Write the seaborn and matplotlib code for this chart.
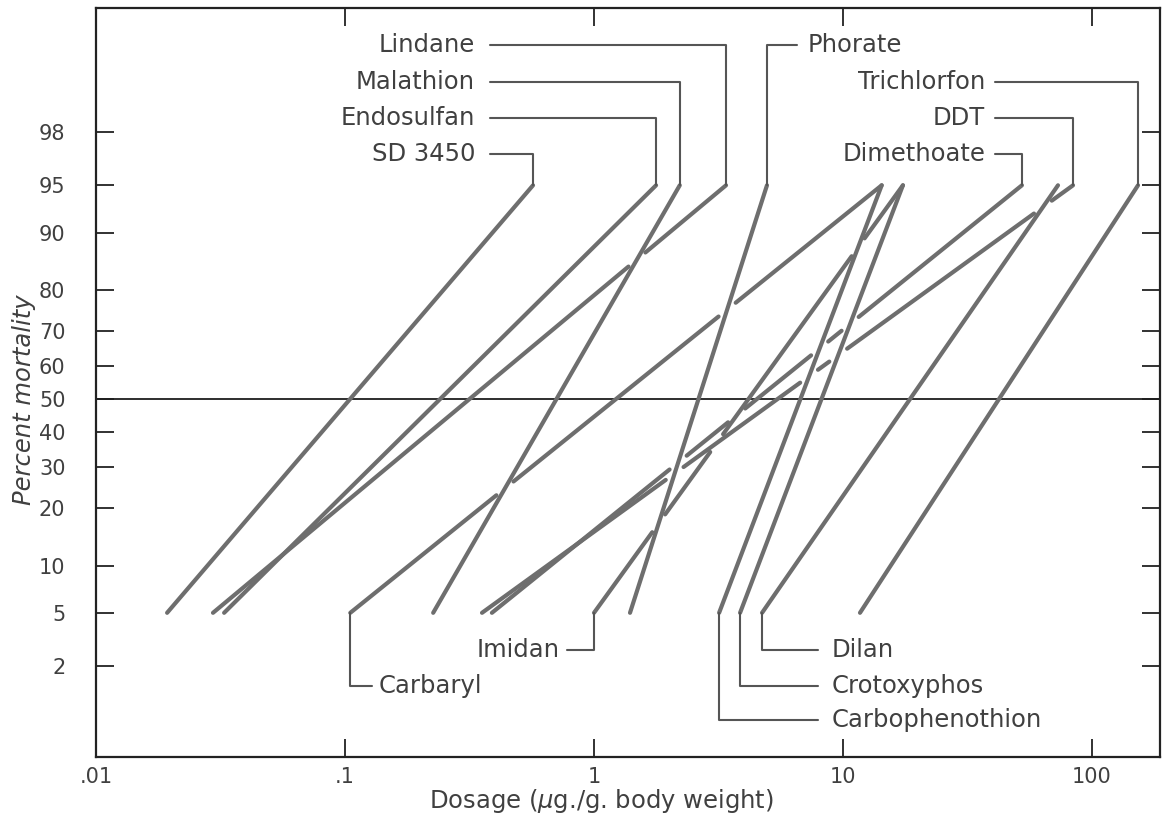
import numpy as np
import pandas as pd
import matplotlib
matplotlib.use("Agg")
import matplotlib.pyplot as plt
from matplotlib.ticker import NullLocator
import seaborn as sns
from statistics import NormalDist

# ---------------- data ----------------
insecticides = ["SD 3450", "Lindane", "Endosulfan", "Carbaryl", "Malathion",
                "DDT", "Dimethoate", "Imidan", "Phorate", "Carbophenothion",
                "Crotoxyphos", "Dilan", "Trichlorfon"]
dose_at_5pct = [0.0193, 0.0295, 0.0327, 0.105, 0.226, 0.355, 0.389, 1.0,
                1.395, 3.18, 3.86, 4.73, 11.7]
dose_at_95pct = [0.569, 3.39, 1.775, 14.3, 2.21, 83.9, 52.3, 17.4,
                 4.95, 14.3, 17.4, 73.0, 153.0]
mortality_low = 5
mortality_high = 95

y_tick_values = [2, 5, 10, 20, 30, 40, 50, 60, 70, 80, 90, 95, 98]
x_tick_values = [0.01, 0.1, 1, 10, 100]
x_tick_labels = [".01", ".1", "1", "10", "100"]

# crossings drawn with the first line interrupted by the second
line_breaks = [("Lindane", "Malathion"), ("Carbaryl", "Malathion"),
               ("Carbaryl", "Phorate"), ("DDT", "Phorate"),
               ("Dimethoate", "Phorate"), ("Imidan", "Phorate"),
               ("Imidan", "DDT"), ("Dimethoate", "Imidan"),
               ("DDT", "Carbophenothion"), ("DDT", "Crotoxyphos"),
               ("Dimethoate", "Carbophenothion"), ("Dimethoate", "Crotoxyphos"),
               ("DDT", "Dilan"), ("Imidan", "Carbophenothion")]

# ---------------- label layout ----------------
top_left_labels = ["Lindane", "Malathion", "Endosulfan", "SD 3450"]
top_right_labels = ["Trichlorfon", "DDT", "Dimethoate"]
top_levels = [99.676, 99.262, 98.47, 97.03]
bottom_right_labels = ["Dilan", "Crotoxyphos", "Carbophenothion"]
bottom_levels = [2.67, 1.36, 0.677]

LINE_COLOR = "#6e6e6e"
TEXT_COLOR = "#404040"
LEADER_COLOR = "#555555"

sns.set_theme(style="ticks")
plt.rcParams["font.family"] = ["DejaVu Sans"]

nd = NormalDist()


def _z(v):
    try:
        return nd.inv_cdf(min(max(v / 100.0, 1e-9), 1 - 1e-9))
    except Exception:
        return np.nan


def _p(v):
    try:
        return 100.0 * nd.cdf(v)
    except Exception:
        return np.nan


_zv = np.vectorize(_z, otypes=[float])
_pv = np.vectorize(_p, otypes=[float])


def probit_fwd(p):
    return _zv(np.asarray(p, dtype=float))


def probit_inv(z):
    return _pv(np.asarray(z, dtype=float))


fig = plt.figure(figsize=(11.64, 8.23), dpi=100)
ax = fig.add_axes([96 / 1164, 66 / 823, 1064 / 1164, 749 / 823])
ax.set_xscale("log")
ax.set_yscale("function", functions=(probit_fwd, probit_inv))
ax.set_xlim(0.01, 187.5)
ax.set_ylim(0.294, 99.869)

# ------------- build line segments (with breaks at crossings) -------------
td = ax.transData
disp = {}
for name, d5, d95 in zip(insecticides, dose_at_5pct, dose_at_95pct):
    p0 = td.transform((d5, mortality_low))
    p1 = td.transform((d95, mortality_high))
    disp[name] = (p0, p1)

GAP = 11.0  # pixels each side of a crossing
rows = []
seg_id = 0
inv = td.inverted()
for name in insecticides:
    p0, p1 = disp[name]
    L = np.hypot(*(p1 - p0))
    gaps = []
    for cut, by in line_breaks:
        if cut != name:
            continue
        q0, q1 = disp[by]
        r = p1 - p0
        s = q1 - q0
        den = r[0] * s[1] - r[1] * s[0]
        if abs(den) < 1e-9:
            continue
        t = ((q0[0] - p0[0]) * s[1] - (q0[1] - p0[1]) * s[0]) / den
        gaps.append((t - GAP / L, t + GAP / L))
    gaps.sort()
    pieces = []
    start = 0.0
    for g0, g1 in gaps:
        if g0 > start:
            pieces.append((start, min(g0, 1.0)))
        start = max(start, g1)
    if start < 1.0:
        pieces.append((start, 1.0))
    for a, b in pieces:
        for t in (a, b):
            dx, my = inv.transform(p0 + t * (p1 - p0))
            rows.append({"insecticide": name, "seg": seg_id, "dose": dx,
                         "mortality": my})
        seg_id += 1

df = pd.DataFrame(rows)
sns.lineplot(data=df, x="dose", y="mortality", units="seg", estimator=None,
             sort=False, color=LINE_COLOR, lw=3.0, solid_capstyle="round",
             legend=False, ax=ax)

# 50 % reference line
ax.axhline(50, color="#1e1e1e", lw=1.3, zorder=1)

# ------------- labels with leader lines -------------
d95_of = dict(zip(insecticides, dose_at_95pct))
d5_of = dict(zip(insecticides, dose_at_5pct))
lab_fs = 17.5
lw_lead = 1.5

for name, lev in zip(top_left_labels, top_levels):
    x95 = d95_of[name]
    ax.plot([0.382, x95, x95], [lev, lev, mortality_high], color=LEADER_COLOR, lw=lw_lead)
    ax.text(0.333, lev, name, ha="right", va="center", fontsize=lab_fs, color=TEXT_COLOR)

for name, lev in zip(top_right_labels, top_levels[1:]):
    x95 = d95_of[name]
    ax.plot([40.8, x95, x95], [lev, lev, mortality_high], color=LEADER_COLOR, lw=lw_lead)
    ax.text(37.2, lev, name, ha="right", va="center", fontsize=lab_fs, color=TEXT_COLOR)

x95 = d95_of["Phorate"]
ax.plot([6.54, x95, x95], [top_levels[0], top_levels[0], mortality_high], color=LEADER_COLOR, lw=lw_lead)
ax.text(7.23, top_levels[0], "Phorate", ha="left", va="center", fontsize=lab_fs, color=TEXT_COLOR)

for name, lev in zip(bottom_right_labels, bottom_levels):
    x5 = d5_of[name]
    ax.plot([x5, x5, 7.94], [mortality_low, lev, lev], color=LEADER_COLOR, lw=lw_lead)
    ax.text(9.03, lev, name, ha="left", va="center", fontsize=lab_fs, color=TEXT_COLOR)

x5 = d5_of["Carbaryl"]
ax.plot([x5, x5, 0.128], [mortality_low, bottom_levels[1], bottom_levels[1]], color=LEADER_COLOR, lw=lw_lead)
ax.text(0.136, bottom_levels[1], "Carbaryl", ha="left", va="center", fontsize=lab_fs, color=TEXT_COLOR)

x5 = d5_of["Imidan"]
ax.plot([x5, x5, 0.779], [mortality_low, bottom_levels[0], bottom_levels[0]], color=LEADER_COLOR, lw=lw_lead)
ax.text(0.730, bottom_levels[0], "Imidan", ha="right", va="center", fontsize=lab_fs, color=TEXT_COLOR)

# ------------- axes styling -------------
ax.set_xticks(x_tick_values)
ax.set_xticklabels(x_tick_labels)
ax.set_yticks(y_tick_values)
ax.set_yticklabels([str(v) for v in y_tick_values])
ax.xaxis.set_minor_locator(NullLocator())
ax.yaxis.set_minor_locator(NullLocator())
ax.tick_params(direction="in", length=13, width=1.3, color="#222222",
               top=True, right=True, labeltop=False, labelright=False,
               labelsize=15, labelcolor=TEXT_COLOR)
ax.tick_params(axis="y", pad=22)
ax.tick_params(axis="x", pad=7)
for sp in ax.spines.values():
    sp.set_visible(True)
    sp.set_linewidth(1.6)
    sp.set_color("#222222")

ax.set_xlabel("Dosage ($\\mu$g./g. body weight)", fontsize=17.5, color=TEXT_COLOR)
ax.xaxis.set_label_coords((601 - 96) / 1064, -0.040)
ax.set_ylabel("Percent mortality", fontsize=17.5, color=TEXT_COLOR, style="italic")
ax.yaxis.set_label_coords((36 - 96) / 1064, 0.477)

fig.savefig("out.png", dpi=100)
